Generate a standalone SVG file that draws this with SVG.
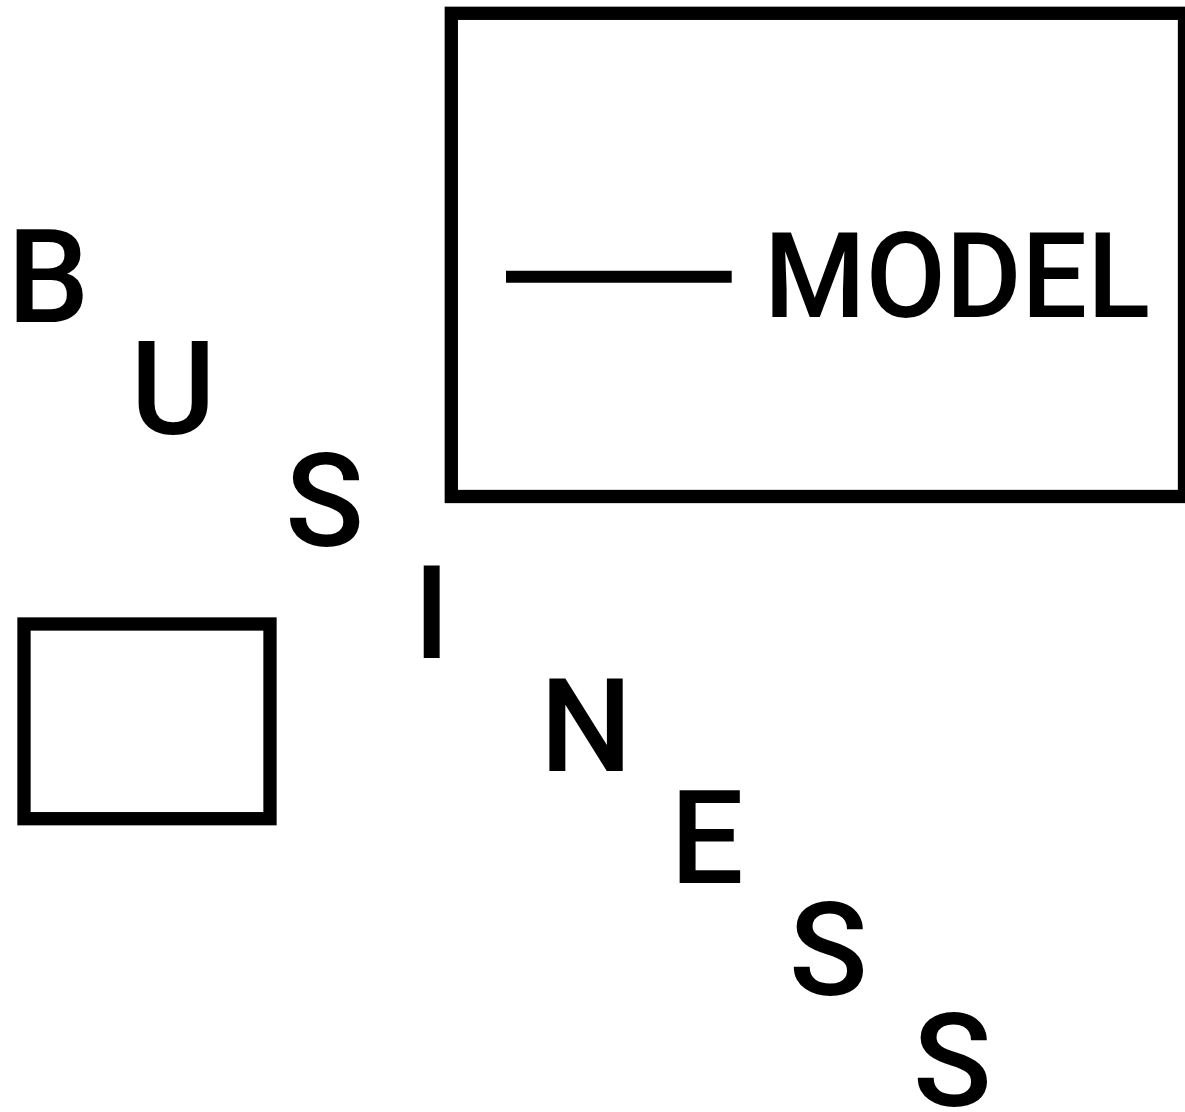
<svg xmlns="http://www.w3.org/2000/svg" width="1185" height="1112" viewBox="0 0 1185 1112">
<style>
.frame{fill:none;stroke:#000;stroke-width:13.3}
.big{font-family:Roboto,"DejaVu Sans",sans-serif;font-weight:500;font-size:130px;fill:#000;text-anchor:middle}
.label{font-family:Roboto,"DejaVu Sans",sans-serif;font-weight:500;font-size:118px;fill:#000}
</style>
<rect width="1185" height="1112" fill="#fff"/>
<g id="model-box">
<rect class="frame" x="451.3" y="13.3" width="733.2" height="483.2"/>
<text class="label" x="764" y="317.3" textLength="386" lengthAdjust="spacingAndGlyphs">MODEL</text>
</g>
<g id="small-box">
<rect class="frame" x="24" y="624" width="246" height="194.7"/>
</g>
<g id="connectors">
<line x1="506" y1="276.7" x2="731.7" y2="276.7" stroke="#000" stroke-width="12"/>
</g>
<g id="business">
<text class="big" x="48.3" y="321.5">B</text>
<text class="big" x="173" y="434">U</text>
<text class="big" x="324.5" y="546">S</text>
<text class="big" x="431.7" y="658.3">I</text>
<text class="big" x="586.2" y="770.7">N</text>
<text class="big" x="707" y="882.9">E</text>
<text class="big" x="828.4" y="995.2">S</text>
<text class="big" x="952.4" y="1106">S</text>
</g>
</svg>
